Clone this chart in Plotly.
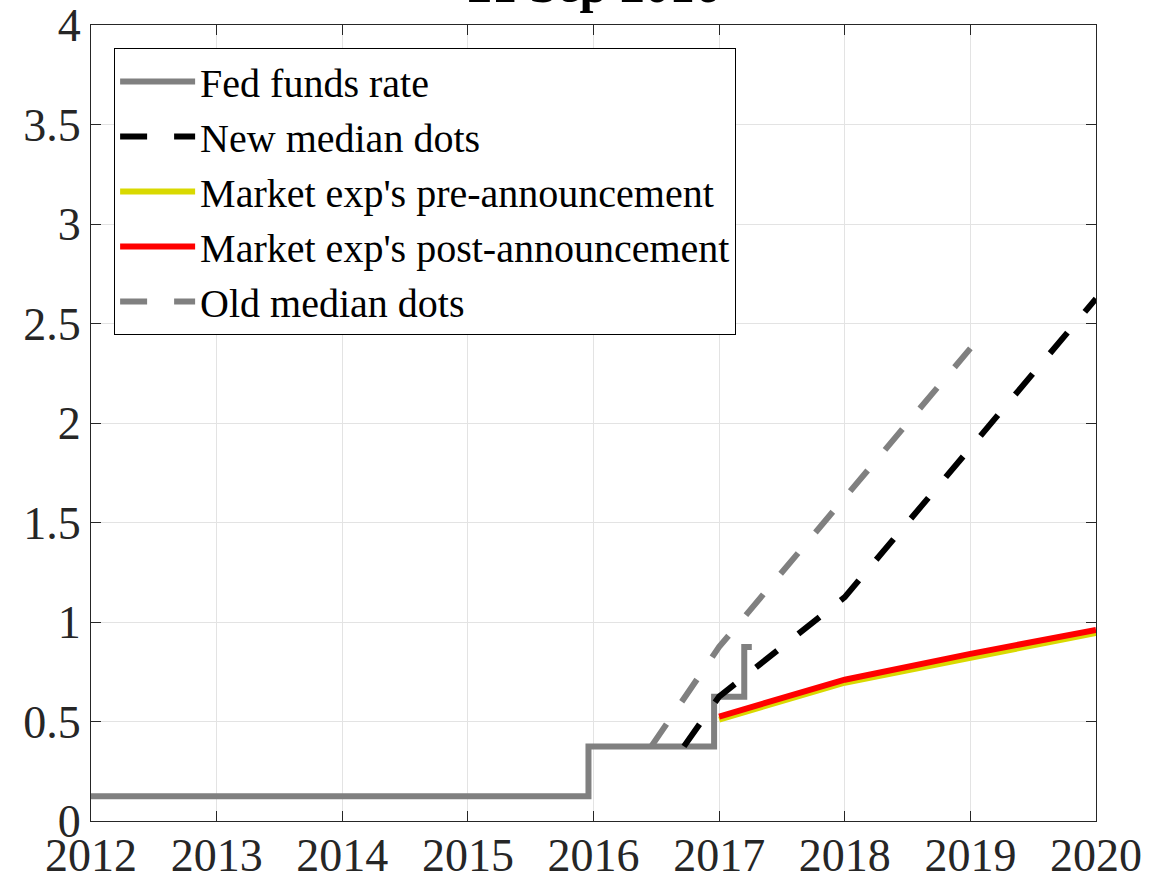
import plotly.graph_objects as go

# Fed funds rate (step function)
ffr_x = [2012.0, 2015.96, 2016.96, 2017.20, 2017.26]
ffr_y = [0.125, 0.375, 0.625, 0.875, 0.875]

# New median dots (Sep 2016 SEP)
new_x = [2016.72, 2017.0, 2018.0, 2019.0, 2020.0]
new_y = [0.375, 0.625, 1.125, 1.875, 2.625]

# Market expectations
pre_x = [2017.0, 2018.0, 2019.0, 2020.0]
pre_y = [0.51, 0.695, 0.82, 0.945]
post_x = [2017.0, 2018.0, 2019.0, 2020.0]
post_y = [0.525, 0.71, 0.84, 0.96]

# Old median dots (Jun 2016 SEP)
old_x = [2016.46, 2017.0, 2018.0, 2019.0]
old_y = [0.375, 0.875, 1.625, 2.375]

x_ticks = [2012, 2013, 2014, 2015, 2016, 2017, 2018, 2019, 2020]
y_ticks = [0, 0.5, 1, 1.5, 2, 2.5, 3, 3.5, 4]
y_tick_text = ["0", "0.5", "1", "1.5", "2", "2.5", "3", "3.5", "4"]

names = ["Fed funds rate", "New median dots", "Market exp's pre-announcement",
         "Market exp's post-announcement", "Old median dots"]
colors = ["#808080", "#000000", "#d9d900", "#ff0000", "#808080"]

title_text = "21 Sep 2016"

DASH = "27px,27px"
fig = go.Figure()
fig.add_trace(go.Scatter(x=ffr_x, y=ffr_y, mode="lines", line_shape="hv", name=names[0],
                         line=dict(color=colors[0], width=6)))
fig.add_trace(go.Scatter(x=new_x, y=new_y, mode="lines", name=names[1],
                         line=dict(color=colors[1], width=6, dash=DASH)))
fig.add_trace(go.Scatter(x=pre_x, y=pre_y, mode="lines", name=names[2],
                         line=dict(color=colors[2], width=6)))
fig.add_trace(go.Scatter(x=post_x, y=post_y, mode="lines", name=names[3],
                         line=dict(color=colors[3], width=6)))
fig.add_trace(go.Scatter(x=old_x, y=old_y, mode="lines", name=names[4],
                         line=dict(color=colors[4], width=6, dash=DASH)))

axis_common = dict(
    showline=True, linecolor="#262626", linewidth=1, mirror="ticks",
    ticks="inside", ticklen=10, tickcolor="#262626", tickwidth=1,
    showgrid=True, gridcolor="#e3e3e3", gridwidth=1, zeroline=False,
    automargin=False,
    tickfont=dict(family="Liberation Serif", size=46, color="#262626"),
)

fig.update_layout(
    width=1149, height=883,
    margin=dict(l=91, r=53, t=25, b=62),
    plot_bgcolor="white", paper_bgcolor="white",
    showlegend=True,
    legend=dict(x=0.023, y=0.971, xanchor="left", yanchor="top",
                bgcolor="white", bordercolor="#000000", borderwidth=1,
                font=dict(family="Liberation Serif", size=40, color="#000000"),
                tracegroupgap=0, itemwidth=75),
    xaxis=dict(range=[2012, 2020], tickvals=x_ticks, ticklabelstandoff=-6, **axis_common),
    yaxis=dict(range=[0, 4], tickvals=y_ticks, ticktext=y_tick_text, **axis_common),
    annotations=[dict(text="<b>" + title_text + "</b>", x=0.5, y=1, xref="paper", yref="paper",
                      xanchor="center", yanchor="bottom", yshift=10, showarrow=False,
                      font=dict(family="Liberation Serif", size=50, color="#000000"))],
)

fig.write_html("out.html", config={"displayModeBar": False},
               post_script="document.body.style.margin='0';")
